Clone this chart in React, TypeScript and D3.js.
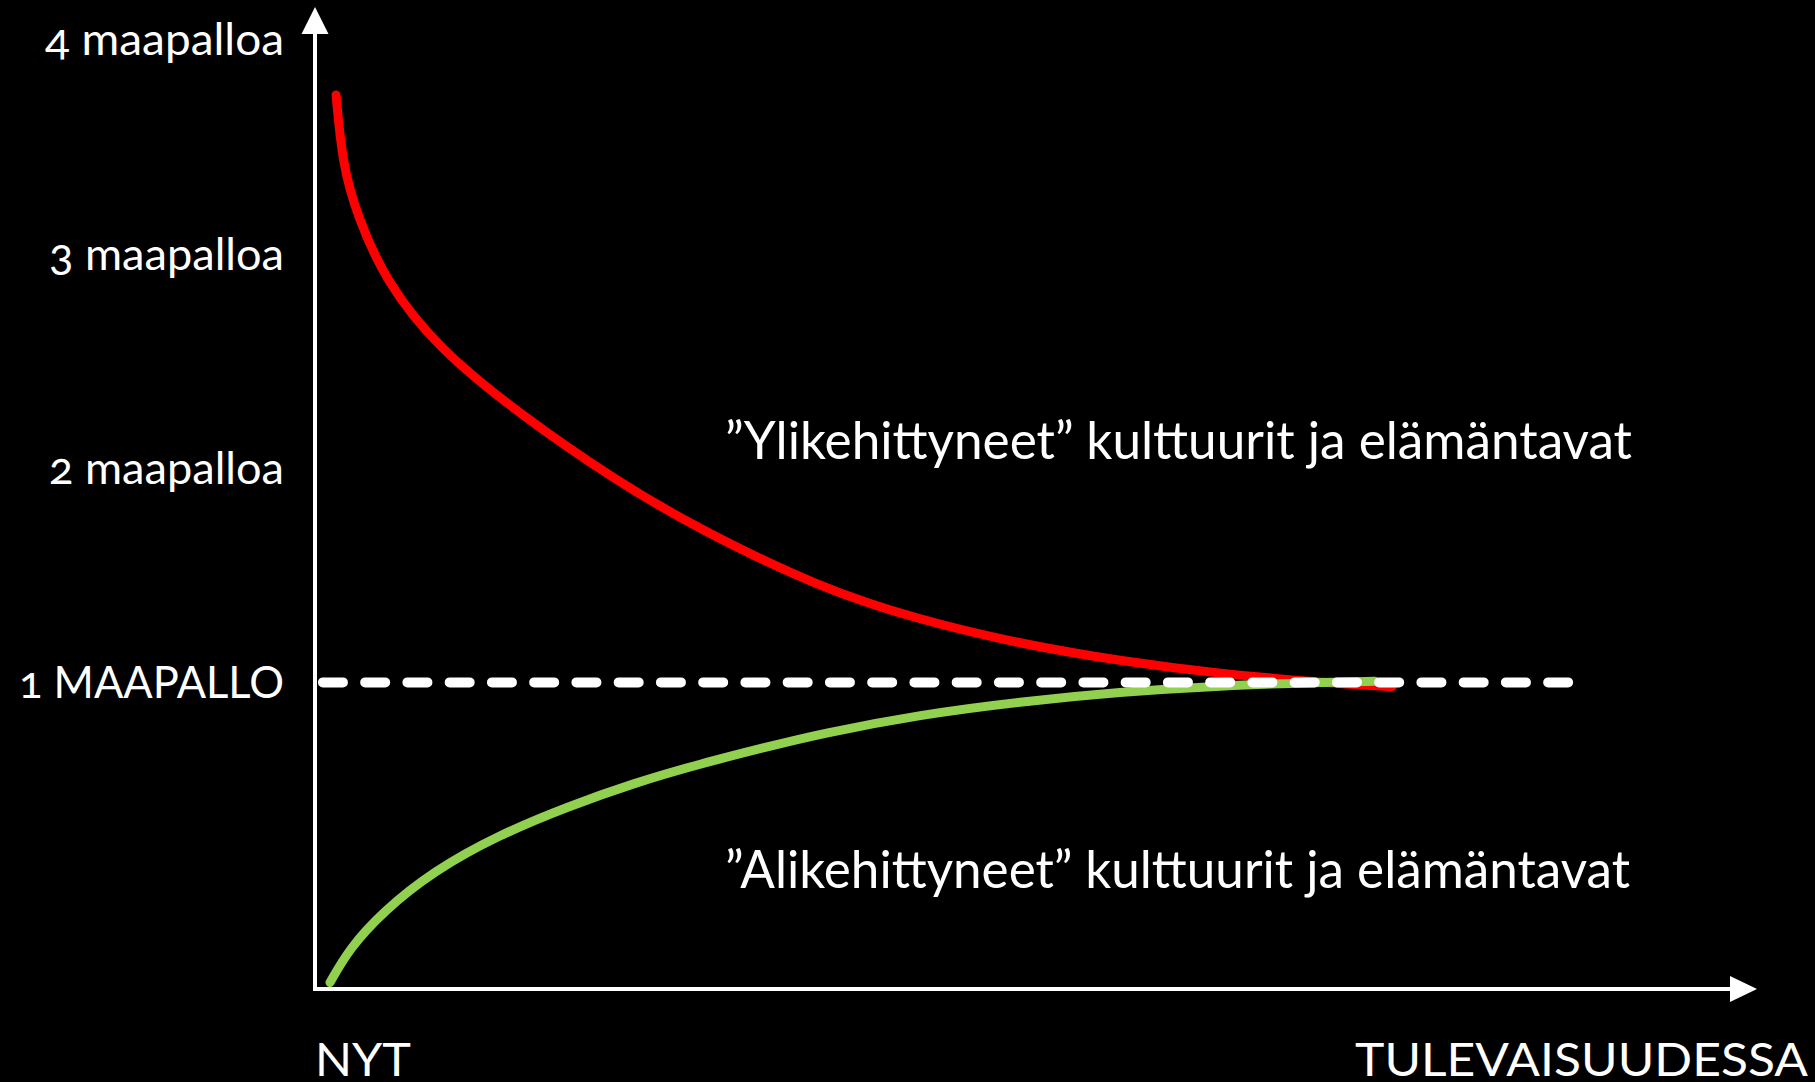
import { useEffect } from "react";
import * as d3 from "d3";

// time runs 0 (NYT) .. 100 (arrow tip); value in "maapalloa"
const overTime = [1.46, 1.9, 2.9, 4.9, 8.5, 14.2, 20.9, 26.2, 35.0, 42.0, 48.9, 55.8, 62.8, 69.7, 74.7];
const overValue = [3.74, 3.42, 3.18, 2.87, 2.56, 2.25, 1.94, 1.73, 1.44, 1.29, 1.18, 1.1, 1.04, 1.0, 0.98];

const underTime = [1.04, 2.4, 4.7, 8.2, 12.8, 17.5, 22.1, 26.7, 31.4, 35.0, 42.0, 48.9, 55.8, 62.8, 69.7, 73.5];
const underValue = [-0.4, -0.24, -0.07, 0.12, 0.29, 0.42, 0.53, 0.62, 0.7, 0.76, 0.85, 0.91, 0.955, 0.985, 1.0, 1.005];

const tickValues = [4, 3, 2, 1];
const tickLabels = ["4 maapalloa", "3 maapalloa", "2 maapalloa", "1 MAAPALLO"];

const referenceValue = 1;
const referenceSpan = [0.55, 86.9];

const xLabels = ["NYT", "TULEVAISUUDESSA"];
const seriesLabels = [
  "”Ylikehittyneet” kulttuurit ja elämäntavat",
  "”Alikehittyneet” kulttuurit ja elämäntavat",
];

const WIDTH = 1815;
const HEIGHT = 1082;
const FONT = "Lato, 'Open Sans', sans-serif";

// widths the labels take in the original (Calibri is narrow)
const tickLabelLen = [239, 235, 235, 265];

export default function App() {
  useEffect(() => {
    document.body.style.margin = "0";
    document.body.style.background = "#000";
  }, []);

  const x = d3.scaleLinear().domain([0, 100]).range([315, 1757]);
  const y = d3.scaleLinear().domain([-0.43, 4.15]).range([989, 7]);

  const line = d3
    .line<[number, number]>()
    .x((d) => x(d[0]))
    .y((d) => y(d[1]))
    .curve(d3.curveBasis);

  const overPath = line(overTime.map((t, i) => [t, overValue[i]])) ?? "";
  const underPath = line(underTime.map((t, i) => [t, underValue[i]])) ?? "";

  const x0 = x(0);
  const y0 = y(-0.43);
  const yTop = y(4.15);
  const xEnd = x(100);
  const head = 27;

  return (
    <svg
      width={WIDTH}
      height={HEIGHT}
      style={{ display: "block", background: "#000" }}
      fontFamily={FONT}
    >
      <rect width={WIDTH} height={HEIGHT} fill="#000" />

      {/* axes */}
      <line x1={x0} y1={y0 + 2} x2={x0} y2={yTop + head - 1} stroke="#fff" strokeWidth={4} />
      <path
        d={`M${x0},${yTop} L${x0 + 13.5},${yTop + head} L${x0 - 13.5},${yTop + head} Z`}
        fill="#fff"
      />
      <line x1={x0 - 2} y1={y0} x2={xEnd - head + 1} y2={y0} stroke="#fff" strokeWidth={4} />
      <path
        d={`M${xEnd},${y0} L${xEnd - head},${y0 - 13} L${xEnd - head},${y0 + 13} Z`}
        fill="#fff"
      />

      {/* y labels */}
      {tickValues.map((v, i) => (
        <text
          key={v}
          x={284}
          y={y(v) + 16}
          textAnchor="end"
          fontSize={44}
          fill="#fff"
          textLength={tickLabelLen[i]}
          lengthAdjust="spacingAndGlyphs"
          style={{ fontVariantNumeric: "oldstyle-nums" }}
        >
          {tickLabels[i]}
        </text>
      ))}

      {/* series */}
      <path d={overPath} fill="none" stroke="#ff0000" strokeWidth={9} strokeLinecap="round" />
      <path d={underPath} fill="none" stroke="#92d050" strokeWidth={9} strokeLinecap="round" />

      {/* 1 maapallo reference */}
      <line
        x1={x(referenceSpan[0])}
        x2={x(referenceSpan[1])}
        y1={y(referenceValue)}
        y2={y(referenceValue)}
        stroke="#fff"
        strokeWidth={10}
        strokeLinecap="round"
        strokeDasharray="20 22.25"
      />

      {/* series labels */}
      <text x={725} y={459} fontSize={52} fill="#fff" textLength={907} lengthAdjust="spacingAndGlyphs">
        {seriesLabels[0]}
      </text>
      <text x={725} y={888} fontSize={52} fill="#fff" textLength={905} lengthAdjust="spacingAndGlyphs">
        {seriesLabels[1]}
      </text>

      {/* x labels */}
      <text x={x0} y={1076} fontSize={46} fill="#fff" textLength={96} lengthAdjust="spacingAndGlyphs">
        {xLabels[0]}
      </text>
      <text x={1355} y={1076} fontSize={46} fill="#fff" textLength={453} lengthAdjust="spacingAndGlyphs">
        {xLabels[1]}
      </text>
    </svg>
  );
}
